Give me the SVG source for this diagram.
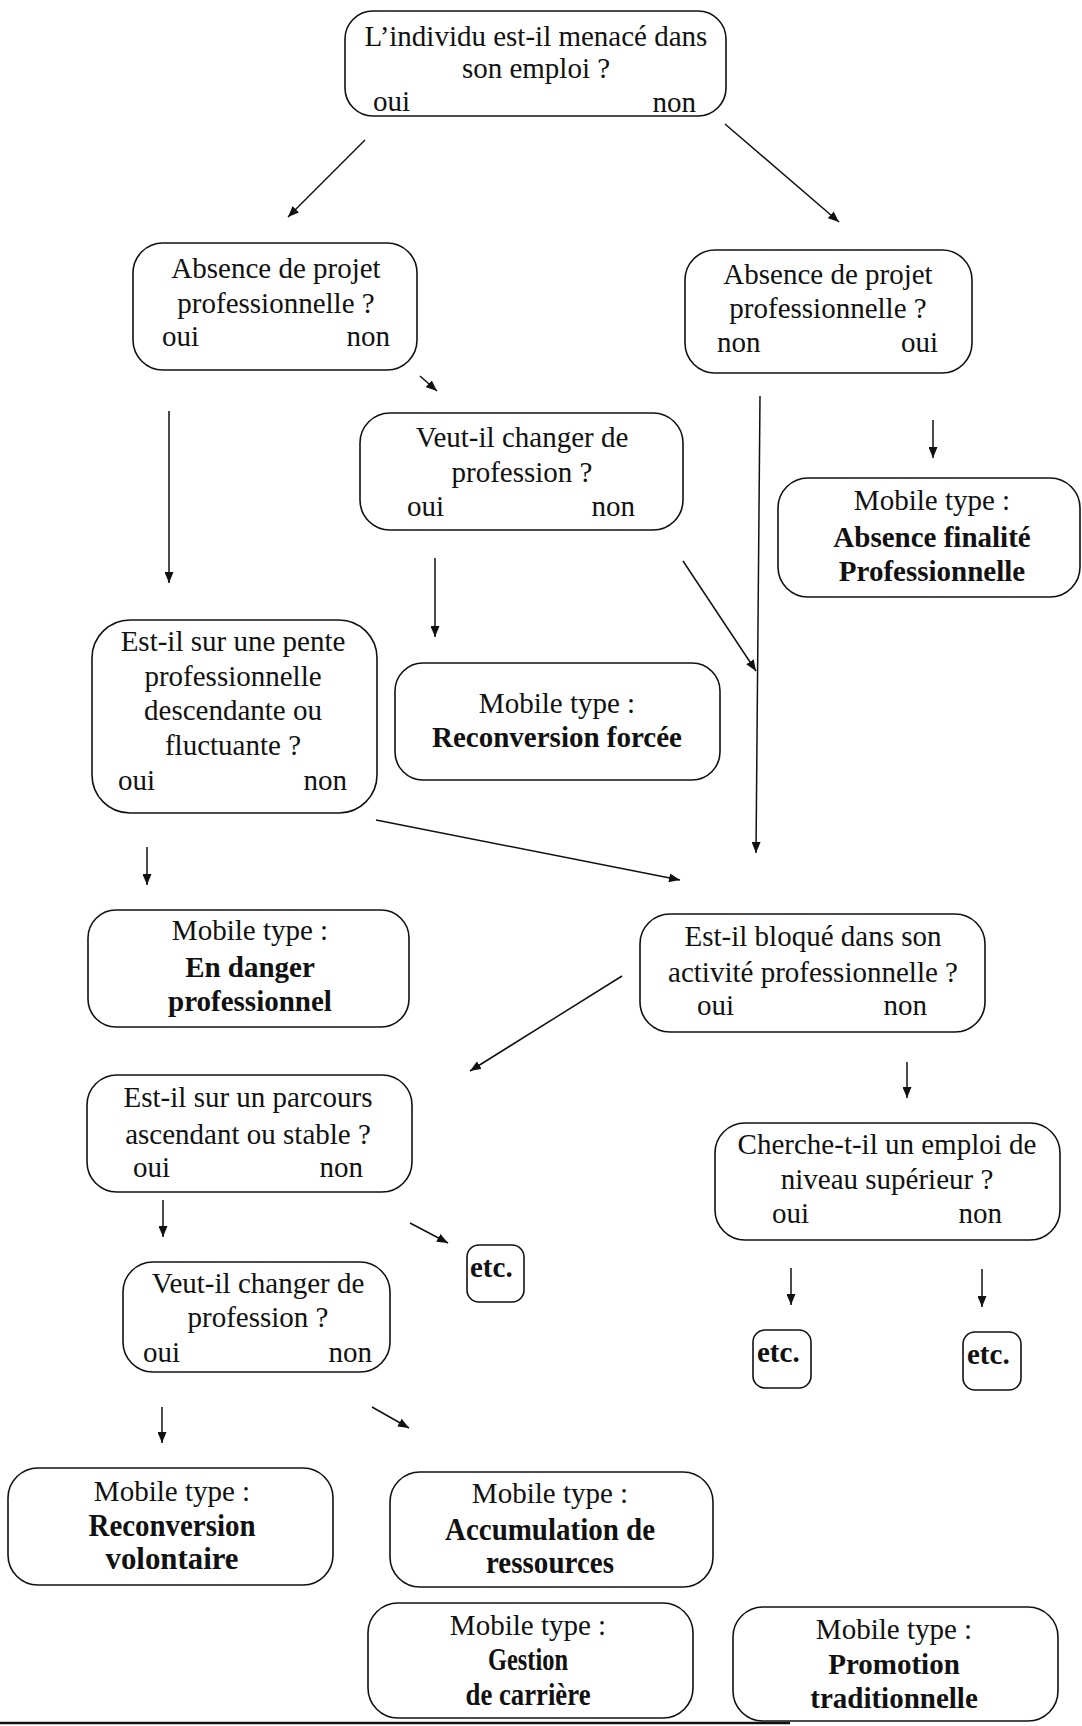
<svg xmlns="http://www.w3.org/2000/svg" width="1082" height="1726" viewBox="0 0 1082 1726">
  <style>
    .box { fill: #fff; stroke: #111; stroke-width: 1.6; }
    .t { font-family: "Liberation Serif", "Times New Roman", serif; font-size: 29px; fill: #111; }
    .c { text-anchor: middle; }
    .e { text-anchor: end; }
    .b { font-weight: bold; }
    .cond { font-size: 32px; }
    .link { stroke: #111; stroke-width: 1.5; fill: none; marker-end: url(#arrow); }
  </style>
  <defs>
    <marker id="arrow" markerUnits="userSpaceOnUse" markerWidth="11" markerHeight="9" refX="11" refY="4.5" orient="auto">
      <path d="M0,0 L11,4.5 L0,9 z" fill="#111"/>
    </marker>
  </defs>
  <rect width="1082" height="1726" fill="#fff"/>

  <!-- connectors -->
  <g id="connectors">
    <line class="link" x1="365" y1="140" x2="288" y2="217"/>
    <line class="link" x1="725" y1="124" x2="839" y2="222"/>
    <line class="link" x1="420" y1="376" x2="437" y2="391"/>
    <line class="link" x1="169" y1="411" x2="169" y2="583"/>
    <line class="link" x1="933" y1="420" x2="933" y2="458"/>
    <line class="link" x1="435" y1="558" x2="435" y2="637"/>
    <line class="link" x1="683" y1="561" x2="756" y2="671"/>
    <line class="link" x1="760" y1="396" x2="756" y2="853"/>
    <line class="link" x1="147" y1="847" x2="147" y2="885"/>
    <line class="link" x1="376" y1="820" x2="680" y2="880"/>
    <line class="link" x1="622" y1="976" x2="470" y2="1071"/>
    <line class="link" x1="907" y1="1062" x2="907" y2="1098"/>
    <line class="link" x1="163" y1="1200" x2="163" y2="1237"/>
    <line class="link" x1="410" y1="1223" x2="448" y2="1243"/>
    <line class="link" x1="162" y1="1407" x2="162" y2="1443"/>
    <line class="link" x1="372" y1="1407" x2="409" y2="1428"/>
    <line class="link" x1="791" y1="1268" x2="791" y2="1305"/>
    <line class="link" x1="982" y1="1269" x2="982" y2="1307"/>
  </g>

  <!-- question nodes -->
  <g id="q-menace">
    <rect class="box" x="345" y="11" width="381" height="105" rx="28"/>
    <text class="t c" x="536" y="46">L’individu est-il menacé dans</text>
    <text class="t c" x="536" y="78">son emploi ?</text>
    <text class="t" x="373" y="111">oui</text>
    <text class="t e" x="696" y="112">non</text>
  </g>

  <g id="q-projet-gauche">
    <rect class="box" x="133" y="243" width="284" height="127" rx="30"/>
    <text class="t c" x="276" y="278">Absence de projet</text>
    <text class="t c" x="276" y="313">professionnelle ?</text>
    <text class="t" x="162" y="346">oui</text>
    <text class="t e" x="390" y="346">non</text>
  </g>

  <g id="q-projet-droite">
    <rect class="box" x="685" y="250" width="287" height="123" rx="30"/>
    <text class="t c" x="828" y="284">Absence de projet</text>
    <text class="t c" x="828" y="318">professionnelle ?</text>
    <text class="t" x="717" y="352">non</text>
    <text class="t e" x="938" y="352">oui</text>
  </g>

  <g id="q-changer-1">
    <rect class="box" x="360" y="413" width="323" height="117" rx="30"/>
    <text class="t c" x="522" y="447">Veut-il changer de</text>
    <text class="t c" x="522" y="482">profession ?</text>
    <text class="t" x="407" y="516">oui</text>
    <text class="t e" x="635" y="516">non</text>
  </g>

  <g id="m-absence-finalite">
    <rect class="box" x="778" y="478" width="302" height="119" rx="30"/>
    <text class="t c" x="932" y="510">Mobile type :</text>
    <text class="t c b" x="932" y="547">Absence finalité</text>
    <text class="t c b" x="932" y="581">Professionnelle</text>
  </g>

  <g id="m-reconversion-forcee">
    <rect class="box" x="395" y="663" width="325" height="117" rx="28"/>
    <text class="t c" x="557" y="713">Mobile type :</text>
    <text class="t c b" x="557" y="747">Reconversion forcée</text>
  </g>

  <g id="q-pente">
    <rect class="box" x="92" y="620" width="285" height="193" rx="38"/>
    <text class="t c" x="233" y="651">Est-il sur une pente</text>
    <text class="t c" x="233" y="686">professionnelle</text>
    <text class="t c" x="233" y="720">descendante ou</text>
    <text class="t c" x="233" y="755">fluctuante ?</text>
    <text class="t" x="118" y="790">oui</text>
    <text class="t e" x="347" y="790">non</text>
  </g>

  <g id="m-en-danger">
    <rect class="box" x="88" y="910" width="321" height="117" rx="28"/>
    <text class="t c" x="250" y="940">Mobile type :</text>
    <text class="t c b" x="250" y="977">En danger</text>
    <text class="t c b" x="250" y="1011">professionnel</text>
  </g>

  <g id="q-bloque">
    <rect class="box" x="640" y="914" width="345" height="118" rx="30"/>
    <text class="t c" x="813" y="946">Est-il bloqué dans son</text>
    <text class="t c" x="813" y="982">activité professionnelle ?</text>
    <text class="t" x="697" y="1015">oui</text>
    <text class="t e" x="927" y="1015">non</text>
  </g>

  <g id="q-niveau">
    <rect class="box" x="715" y="1123" width="345" height="117" rx="30"/>
    <text class="t c" x="887" y="1154">Cherche-t-il un emploi de</text>
    <text class="t c" x="887" y="1189">niveau supérieur ?</text>
    <text class="t" x="772" y="1223">oui</text>
    <text class="t e" x="1002" y="1223">non</text>
  </g>

  <g id="q-parcours">
    <rect class="box" x="87" y="1075" width="325" height="117" rx="30"/>
    <text class="t c" x="248" y="1107">Est-il sur un parcours</text>
    <text class="t c" x="248" y="1144">ascendant ou stable ?</text>
    <text class="t" x="133" y="1177">oui</text>
    <text class="t e" x="363" y="1177">non</text>
  </g>

  <g id="etc-parcours">
    <rect class="box" x="467" y="1245" width="57" height="57" rx="12"/>
    <text class="t b" x="470" y="1277">etc.</text>
  </g>

  <g id="q-changer-2">
    <rect class="box" x="123" y="1262" width="267" height="110" rx="30"/>
    <text class="t c" x="258" y="1293">Veut-il changer de</text>
    <text class="t c" x="258" y="1327">profession ?</text>
    <text class="t" x="143" y="1362">oui</text>
    <text class="t e" x="372" y="1362">non</text>
  </g>

  <g id="etc-niveau-oui">
    <rect class="box" x="753" y="1330" width="58" height="58" rx="12"/>
    <text class="t b" x="757" y="1362">etc.</text>
  </g>

  <g id="etc-niveau-non">
    <rect class="box" x="963" y="1332" width="58" height="58" rx="12"/>
    <text class="t b" x="967" y="1364">etc.</text>
  </g>

  <!-- outcome nodes, bottom row -->
  <g id="m-reconversion-volontaire">
    <rect class="box" x="8" y="1468" width="325" height="117" rx="30"/>
    <text class="t c" x="172" y="1501">Mobile type :</text>
    <text class="t c b cond" x="172" y="1536" textLength="167" lengthAdjust="spacingAndGlyphs">Reconversion</text>
    <text class="t c b cond" x="172" y="1569" textLength="133" lengthAdjust="spacingAndGlyphs">volontaire</text>
  </g>

  <g id="m-accumulation">
    <rect class="box" x="390" y="1472" width="323" height="115" rx="30"/>
    <text class="t c" x="550" y="1503">Mobile type :</text>
    <text class="t c b cond" x="550" y="1540" textLength="210" lengthAdjust="spacingAndGlyphs">Accumulation de</text>
    <text class="t c b cond" x="550" y="1573" textLength="128" lengthAdjust="spacingAndGlyphs">ressources</text>
  </g>

  <g id="m-gestion-carriere">
    <rect class="box" x="368" y="1603" width="325" height="115" rx="30"/>
    <text class="t c" x="528" y="1635">Mobile type :</text>
    <text class="t c b cond" x="528" y="1670" textLength="80" lengthAdjust="spacingAndGlyphs">Gestion</text>
    <text class="t c b cond" x="528" y="1705" textLength="125" lengthAdjust="spacingAndGlyphs">de carrière</text>
  </g>

  <g id="m-promotion">
    <rect class="box" x="733" y="1607" width="325" height="114" rx="30"/>
    <text class="t c" x="894" y="1639">Mobile type :</text>
    <text class="t c b" x="894" y="1674">Promotion</text>
    <text class="t c b" x="894" y="1708">traditionnelle</text>
  </g>

  <!-- rule under the figure -->
  <line x1="0" y1="1723" x2="790" y2="1723" stroke="#111" stroke-width="2.5"/>
</svg>
